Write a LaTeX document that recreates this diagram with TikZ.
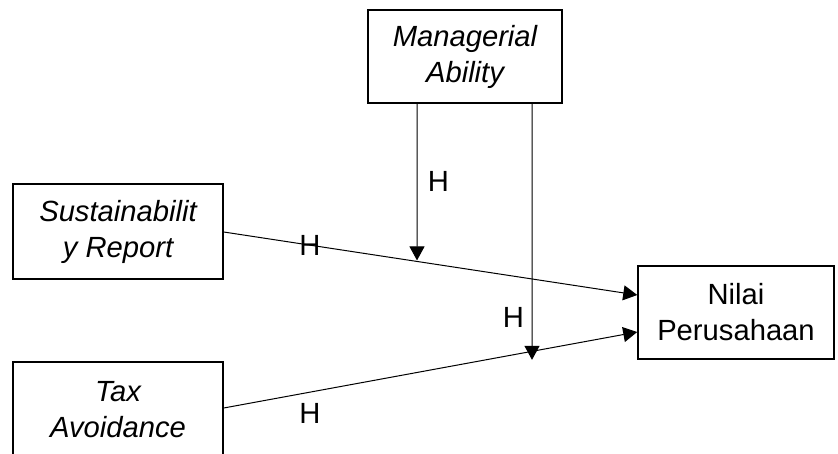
\documentclass[tikz,border=0pt]{standalone}
\usepackage{fontspec}
\setmainfont{Liberation Sans}
\usetikzlibrary{arrows.meta,calc,intersections}
\begin{document}
\begin{tikzpicture}[x=1pt,y=-1pt,
  box/.style={draw,line width=1.5pt,inner sep=0pt,align=center,font=\fontsize{29.2}{36}\selectfont},
  conn/.style={line width=1pt,-{Triangle[length=14pt,width=15pt]}},
  hlab/.style={inner sep=0pt,font=\fontsize{29.2}{36}\selectfont}]
\clip (0,0) rectangle (838,454);
\fill[white] (0,0) rectangle (838,454);
\node[box,minimum width=194pt,minimum height=93pt] (ma) at (465,56.5) {\itshape Managerial\\\itshape Ability};
\node[box,minimum width=210pt,minimum height=95pt] (sr) at (118,231.5) {\itshape Sustainabilit\\\itshape y Report};
\node[box,minimum width=210pt,minimum height=95pt] (ta) at (118,409.5) {\itshape Tax\\\itshape Avoidance};
\node[box,minimum width=196pt,minimum height=93pt] (np) at (736,312.5) {Nilai\\Perusahaan};
\coordinate (np1) at ($(np.west)+(0,-17.5)$);
\coordinate (np2) at ($(np.west)+(0,19.5)$);
\coordinate (sr1) at ($(sr.east)+(0,0.5)$);
\coordinate (ta1) at ($(ta.east)+(0,-1.5)$);
\coordinate (m1) at ($(ma.south)+(-48,0)$);
\coordinate (m2) at ($(ma.south)+(67,0)$);
\draw[conn,name path=l1] (sr1) -- (np1);
\draw[conn,name path=l2] (ta1) -- (np2);
\path[name path=v1] (m1) -- ++(0,400);
\path[name path=v2] (m2) -- ++(0,400);
\path[name intersections={of=l1 and v1,by=x1}];
\path[name intersections={of=l2 and v2,by=x2}];
\draw[conn] (m1) -- ($(x1)+(0,-1)$);
\draw[conn] (m2) -- ($(x2)+(0,8.5)$);
\node[hlab] (h1) at (310,245) {H};
\node[hlab] (h2) at (438.5,181.5) {H};
\node[hlab] (h3) at (513.5,317.5) {H};
\node[hlab] (h4) at (310,413) {H};
\end{tikzpicture}
\end{document}
